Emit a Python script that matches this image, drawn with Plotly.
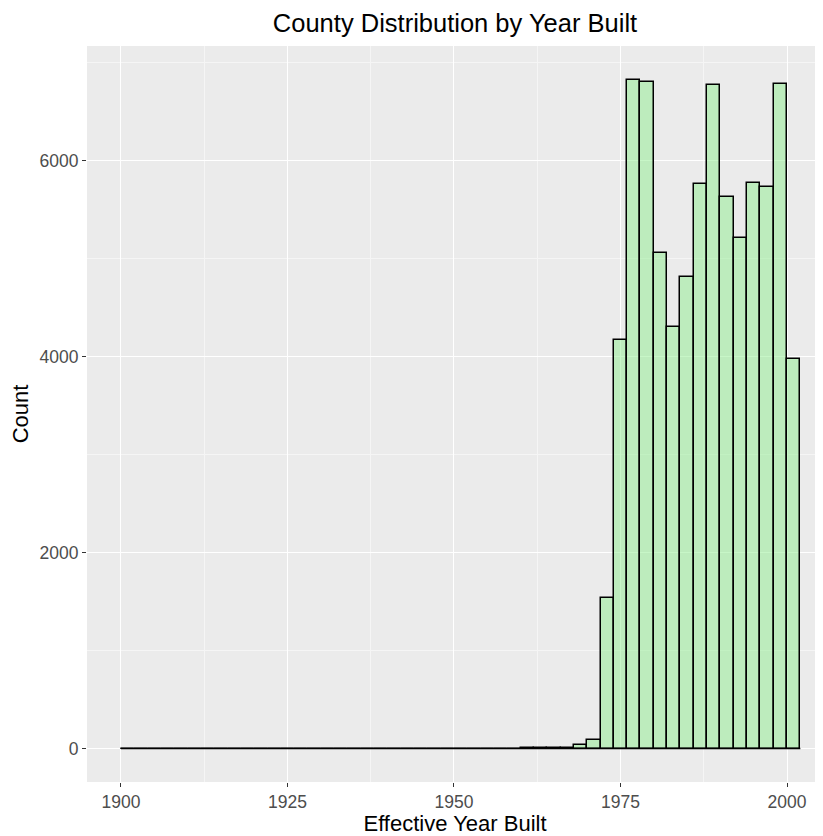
import plotly.graph_objects as go

# Histogram bins (2-year width), start of each bin
bin_width = 2
bin_starts = list(range(1900, 2002, 2))  # 1900 ... 2000
counts = [
    0, 0, 0, 0, 0, 0, 0, 0, 0, 0,        # 1900-1918
    0, 0, 0, 0, 0, 0, 0, 0, 0, 0,        # 1920-1938
    0, 0, 0, 0, 0, 0, 0, 0, 0, 0,        # 1940-1958
    3, 4, 6, 10, 38, 92,                 # 1960-1970
    1541, 4175, 6828, 6800, 5058, 4300, 4816, 5765,   # 1972-1986
    6775, 5633, 5207, 5776, 5731, 6779, 3980          # 1988-2000
]
x_ticks = [1900, 1925, 1950, 1975, 2000]
y_ticks = [0, 2000, 4000, 6000]

centers = [s + bin_width / 2 for s in bin_starts]

fig = go.Figure()
# baseline outline for the empty bins (ggplot draws zero-height bar outlines)
fig.add_trace(go.Scatter(
    x=[bin_starts[0], bin_starts[-1] + bin_width], y=[0, 0],
    mode="lines", line=dict(color="black", width=1.6),
    hoverinfo="skip", showlegend=False,
))
fig.add_trace(go.Bar(
    x=centers, y=counts, width=[bin_width] * len(centers),
    marker=dict(color="rgba(144,238,144,0.5)",
                line=dict(color="black", width=1.5)),
    showlegend=False,
))

# page body has an 8px margin, so the figure is sized/offset accordingly
W, H = 815, 828
L, T, B = 79, 38, 54
fig.update_layout(
    width=W, height=H,
    margin=dict(l=L, r=0, t=T, b=B),
    paper_bgcolor="white",
    plot_bgcolor="#EBEBEB",
    bargap=0,
    font=dict(family="Liberation Sans, Arial, sans-serif"),
    title=dict(text="County Distribution by Year Built",
               x=(L + W) / 2 / W, xanchor="center",
               y=1 - 15 / H, yanchor="middle",
               font=dict(size=25.5, color="black")),
)
fig.update_xaxes(
    automargin=False,
    range=[1894.9, 1900 + (W - (120.7 - 8)) / 6.663],
    tickvals=x_ticks, ticktext=[str(v) for v in x_ticks],
    ticks="outside", ticklen=4, tickwidth=1, tickcolor="#333333",
    tickfont=dict(size=17.5, color="#4D4D4D"),
    showgrid=True, gridcolor="white", gridwidth=1.2,
    minor=dict(dtick=12.5, tick0=1900, showgrid=True, gridcolor="#F5F5F5", gridwidth=0.6),
    zeroline=False, showline=False,
    title=dict(text="Effective Year Built", font=dict(size=22, color="black"), standoff=6),
)
fig.update_yaxes(
    automargin=False,
    range=[-341.5, 7171.5],
    tickvals=y_ticks, ticktext=[str(v) for v in y_ticks],
    ticks="outside", ticklen=4, tickwidth=1, tickcolor="#333333",
    tickfont=dict(size=17.5, color="#4D4D4D"),
    showgrid=True, gridcolor="white", gridwidth=1.2,
    minor=dict(dtick=1000, tick0=0, showgrid=True, gridcolor="#F5F5F5", gridwidth=0.6),
    zeroline=False, showline=False,
    title=dict(text="Count", font=dict(size=22, color="black"), standoff=4),
)

fig.write_html("out.html")
